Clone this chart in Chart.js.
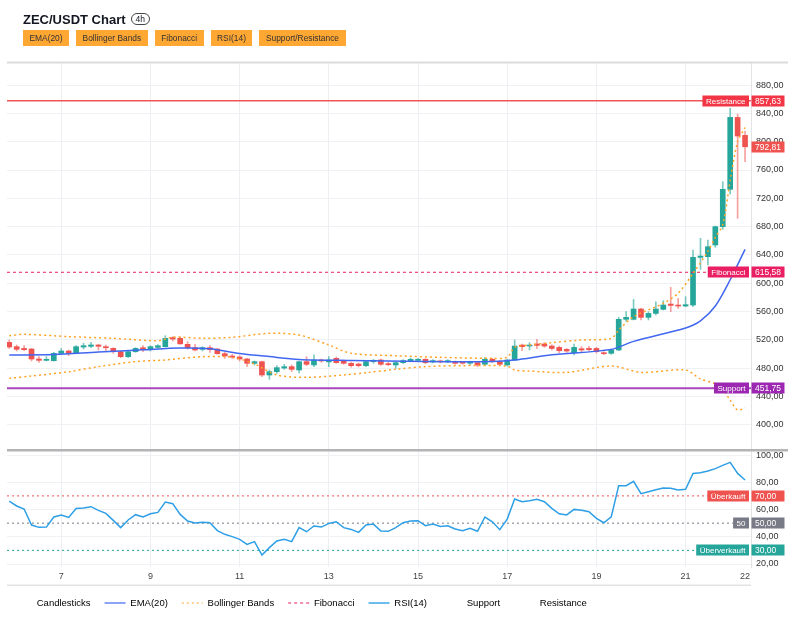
<!DOCTYPE html>
<html>
<head>
<meta charset="utf-8">
<script src="https://cdn.jsdelivr.net/npm/chart.js@4.4.0/dist/chart.umd.min.js"></script>
<style>
  body { margin: 0; background: #fff; font-family: "Liberation Sans", Arial, sans-serif; }
  #wrap { position: relative; width: 795px; height: 620px; }
  #head { position: absolute; left: 23px; top: 11px; z-index: 2; }
  h1 { margin: 0; font-size: 13px; font-weight: bold; color: #131722; display: flex; align-items: center; height: 16px; }
  .tf { font-size: 8.5px; font-weight: normal; border: 1px solid #444; border-radius: 7px; padding: 0 4px; margin-left: 5px; line-height: 10px; }
  .btns { margin-top: 3px; display: flex; gap: 7px; }
  .btns span { background: #FFA733; color: #333; font-size: 8.4px; height: 16px; line-height: 16px; padding: 0 6.5px; }
  canvas { position: absolute; left: 0; top: 0; }
</style>
</head>
<body>
<div id="wrap">
  <div id="head">
    <h1>ZEC/USDT Chart <span class="tf">4h</span></h1>
    <div class="btns"><span>EMA(20)</span><span>Bollinger Bands</span><span>Fibonacci</span><span>RSI(14)</span><span>Support/Resistance</span></div>
  </div>
  <canvas id="chart" width="795" height="620"></canvas>
</div>
<script>
// 4h candles, index 0 = day 5 20:00 ... index 99 = day 22 08:00
const opens  = [516.6,510.5,508,507.2,493.1,491.2,490.7,501.1,504.4,501.1, 510,511,512.9,510.5,508.1,503.4,496.4,503.4,509,506.3,
                509.5,510.5,523.2,522.3,513.8,509.1,506.7,509.1,507.2,500.6, 497.3,495.9,493.1,487,489.3,470.5,475.2,480.3,482.3,477.6,
                489.4,484.7,491.7,489,494,490.3,487,486,483.7,489.4, 491.7,486.5,484.7,487.9,490.8,491.2,492.7,488.9,490.3,489,
                489.4,488,487.1,488,485.6,492.7,489.4,484.7,491.7,512.8, 511.4,514.3,514.3,511.4,509.5,506.7,502,507.6,508,508,
                502,501.1,505.8,549.1,549.1,563.7,551.9,557.5,563.2,570.7, 569.3,567.9,569.3,636.6,637.6,654.1,680,732.7,834.3,808.9];
const highs  = [520,512.9,511.9,508.1,496.4,496.4,502.5,508.1,505.8,512, 515.2,516.6,513.8,512.9,509.1,504.4,504.4,509.1,511.9,511.9,
                513.3,526,524.6,524.1,517.6,513.8,510.5,511.9,508.1,502.5, 499.7,497.8,494,490.3,490.3,477.6,483.7,485.6,484.6,490.3,
                496.4,499,493.1,496.4,495.9,491.7,488.9,487.5,491.2,492.6, 493.1,488.4,489.4,492.2,494.5,494,493.6,492.2,491.7,492.2,
                490.3,489.4,490.3,489.4,495,494,491.2,492.2,519.9,514.3, 516.1,520.8,516.1,513.3,511.4,508,514.3,510.5,510.9,509.5,
                503.4,507.2,551.9,559.9,577.3,564.6,559.9,574,575.5,594.3, 578.7,581.1,647,663.5,661.1,680.9,743.5,847.1,839,815];
const lows   = [508,504.4,504.8,490.3,488.4,490.3,490.3,499.7,497.8,500.6, 507.2,509.1,505.8,504.8,501.1,495,495,502.5,503.4,504.4,
                508.1,510,518.5,513.8,507.2,504.4,504.4,502.5,499.7,494, 494,490.3,482.3,484.6,468.1,464.4,472.8,478.5,475.2,473.3,
                483.7,482.3,488.4,482.3,487,485.6,481.4,481.8,482.3,487, 484.2,483.7,480,486.5,489.4,489.4,486.5,487.5,487.5,487.9,
                485.6,485.6,485.1,482.3,484.2,488,483.7,483.2,490.8,504.8, 505.8,507.6,509.5,505.8,502,502.5,498.7,503.4,504.4,501.6,
                499.2,499.7,504.8,546,548.2,548.2,548.2,555.2,562.3,559.9, 564.6,566.9,567,619.7,625.8,650.8,676.2,726.1,691.7,771.7];
const closes = [510,506.8,506.3,493.1,491.2,492.6,501.1,504.4,501.1,510.5, 511.9,512.9,511,509,504.4,496.4,503.4,508.1,506.3,510.5,
                511.9,522.3,521.3,514.5,509.1,505.8,509.1,506.3,500.6,497.3, 495.9,493.1,487,489.3,470.5,475.2,480.9,482.3,478.5,489.3,
                485.6,491.7,490.3,491.7,488,487,483.7,483.7,489.4,490.3, 485.6,485.1,487.9,490.8,492.7,492.7,488,490.8,489,490.8,
                487,487.1,489,484.7,492.7,489.4,485.6,491.7,511.4,510.5, 512.8,512.3,511.4,508,504.8,504.4,509.5,505.8,506.3,503.4,
                500.6,505.8,549.1,551.9,563.7,551.9,557.5,563.7,569.3,568.8, 567.9,569.8,636.6,638.5,651.7,680,732.7,834.3,808,792.81];

// EMA(20) read at selected candles
const emaIdx = [0,6,12,18,23,27,31,35,39,46,56,65,68,73,81,84,91,93,95,97,99];
const emaVal = [498.7,499.5,503,506,508.5,507.5,501,496.5,492.5,491,489.5,489.5,491.7,499,506.7,518,537,547,568,605,648];

// Bollinger Bands read at selected candles
const bbUpIdx = [0,2,8,14,20,22,26,30,35,39,43,46,52,58,65,67,68,70,73,77,81,82,84,88,90,92,94,95,96,97,98,99];
const bbUpVal = [526,528,524.7,522.3,519,524,522.3,523.7,529.4,527,512.9,501.1,497.8,495.5,494,495.5,509.6,512.9,516.1,519.9,522.2,534,552.8,571.7,586,614,645,665,683,745,800,820];
const bbLoIdx = [0,3,8,12,17,21,26,30,33,36,40,45,48,52,56,61,67,68,70,75,81,85,91,93,95,96,97,98,99];
const bbLoVal = [465.8,469.1,475.2,482.3,489.4,491.7,496.4,495.5,486,470.5,467.2,470.5,473.8,478.5,482.3,483.7,483.2,477.6,476,474.2,483.2,474.2,477.5,465,458,450,435,421,424];

// RSI(14), one value per candle
const rsi = [66.2,62.6,60.4,48.6,46.9,47.1,54.5,56,54.2,60.8, 61.1,62.1,59.4,57.2,52,46.7,52.3,56.2,54.5,56.9,
             57.9,65.5,64.3,56.4,51.5,50.1,50.6,50.3,44.5,41.8, 40.1,38.1,34.4,36.4,26.6,32,36.9,38.1,36.4,46.7,
             43.7,47.9,47.1,49.8,51,46.7,45.4,43.2,48.6,49.3, 44.2,44,46.7,50.3,51.5,51.8,48.1,49.3,47.6,48.1,
             45.7,44.5,46.2,44,54.5,51,45.2,53,67.7,65.7, 66.5,67.5,65.7,60.8,56.9,56,60.1,59.4,58.4,53.5,
             50.3,54.7,77.5,77.5,80.7,71.6,73.1,74.5,75.8,75.6, 74.3,74.8,86.5,87,88.3,90,92.4,94.6,86.5,81.7];

// levels
const resistanceLevel = 857.63;
const supportLevel = 451.75;
const fibLevel = 615.58;
const rsiLevels = [70, 50, 30];

// time axis
const dayTickIdx = [7, 19, 31, 43, 55, 67, 79, 91, 99];
const dayTickLabels = ['7', '9', '11', '13', '15', '17', '19', '21', '22'];

const UP = '#26A69A', DOWN = '#EF5350';
const X_MIN = -0.3, X_MAX = 99.8;
const fmt = v => v.toFixed(2).replace('.', ',');
const pts = (idx, val) => idx.map((k, i) => ({ x: k, y: val[i] }));
const hline = v => [{ x: X_MIN, y: v }, { x: X_MAX, y: v }];
const isUp = i => closes[i] >= opens[i];

Chart.defaults.font.family = '"Liberation Sans", Arial, sans-serif';

const tags = [
  { axis: 'y', value: resistanceLevel, name: 'Resistance', color: '#F23645' },
  { axis: 'y', value: closes[closes.length - 1], name: '', color: '#EF5350' },
  { axis: 'y', value: fibLevel, name: 'Fibonacci', color: '#E91E63' },
  { axis: 'y', value: supportLevel, name: 'Support', color: '#9C27B0' },
  { axis: 'rsi', value: rsiLevels[0], name: 'Überkauft', color: '#EF5350' },
  { axis: 'rsi', value: rsiLevels[1], name: '50', color: '#787B86' },
  { axis: 'rsi', value: rsiLevels[2], name: 'Überverkauft', color: '#26A69A' }
];

// panes frame + axis tags
const tagPlugin = {
  id: 'tags',
  afterLayout(chart) {
    const lg = chart.legend;
    lg.left = -3;
    lg.top -= 2.25;
    lg.bottom -= 2.25;
  },
  afterDraw(chart) {
    const { ctx, chartArea: ca, scales } = chart;
    ctx.save();
    ctx.fillStyle = '#DCDCDC';
    ctx.fillRect(ca.left, ca.top - 1.5, 788 - ca.left, 2);
    ctx.fillStyle = '#B4B4B4';
    ctx.fillRect(ca.left, scales.y.bottom - 1, 788 - ca.left, 2.5);
    ctx.fillStyle = '#E3E3E3';
    ctx.fillRect(ca.left, ca.bottom + 17.5, ca.right - ca.left, 1.5);
    ctx.textBaseline = 'middle';
    ctx.textAlign = 'left';
    tags.forEach(t => {
      const py = Math.round(scales[t.axis].getPixelForValue(t.value));
      ctx.fillStyle = t.color;
      ctx.fillRect(ca.right + 0.5, py - 5.5, 33, 11);
      ctx.fillStyle = '#fff';
      ctx.font = '8.5px "Liberation Sans", Arial, sans-serif';
      ctx.fillText(fmt(t.value), ca.right + 4, py + 0.5);
      if (t.name) {
        ctx.font = '8px "Liberation Sans", Arial, sans-serif';
        const w = ctx.measureText(t.name).width + 7;
        ctx.fillStyle = t.color;
        ctx.fillRect(ca.right - 2 - w, py - 5.5, w, 11);
        ctx.fillStyle = '#fff';
        ctx.fillText(t.name, ca.right - 2 - w + 3.5, py + 0.5);
      }
    });
    ctx.restore();
  }
};

const lineDs = (label, data, color, extra) => Object.assign({
  type: 'line', label, data, borderColor: color, borderWidth: 1.5,
  pointRadius: 0, fill: false, yAxisID: 'y', order: 1
}, extra);

const datasets = [
  {
    type: 'bar', label: 'Candlesticks', inLegend: true, legendColor: 'rgba(0,0,0,0)',
    data: opens.map((o, i) => ({ x: i, y: [o, closes[i]] })),
    backgroundColor: ctx => isUp(ctx.dataIndex) ? UP : DOWN,
    barThickness: 5, minBarLength: 1, grouped: false, yAxisID: 'y', order: 2
  },
  {
    type: 'bar', label: 'wicks',
    data: lows.map((l, i) => ({ x: i, y: [l, highs[i]] })),
    backgroundColor: ctx => isUp(ctx.dataIndex) ? 'rgba(38,166,154,0.6)' : 'rgba(239,83,80,0.55)',
    barThickness: 1, grouped: false, yAxisID: 'y', order: 3
  },
  lineDs('EMA(20)', pts(emaIdx, emaVal), '#4167F0', { inLegend: true, legendColor: 'rgba(65,103,240,0.6)', tension: 0.3 }),
  lineDs('Bollinger Bands', pts(bbUpIdx, bbUpVal), '#FFA326', { inLegend: true, legendColor: 'rgba(255,163,38,0.5)', borderDash: [2, 3], tension: 0.3, order: 0 }),
  lineDs('BB lower', pts(bbLoIdx, bbLoVal), '#FFA326', { borderDash: [2, 3], tension: 0.3, order: 0 }),
  lineDs('Fibonacci', hline(fibLevel), '#E91E63', { inLegend: true, legendColor: 'rgba(233,30,99,0.5)', borderWidth: 1, borderDash: [3, 3] }),
  lineDs('RSI(14)', rsi.map((v, i) => ({ x: i, y: v })), '#2E9FE6', { inLegend: true, legendColor: 'rgba(46,159,230,0.7)', yAxisID: 'rsi' }),
  lineDs('rsi70', hline(rsiLevels[0]), '#EF5350', { yAxisID: 'rsi', borderWidth: 1, borderDash: [2, 3] }),
  lineDs('rsi50', hline(rsiLevels[1]), '#787B86', { yAxisID: 'rsi', borderWidth: 1, borderDash: [2, 3] }),
  lineDs('rsi30', hline(rsiLevels[2]), '#26A69A', { yAxisID: 'rsi', borderWidth: 1, borderDash: [2, 3] }),
  lineDs('Support', hline(supportLevel), '#AB47BC', { inLegend: true, legendColor: 'rgba(0,0,0,0)', borderWidth: 2 }),
  lineDs('Resistance', hline(resistanceLevel), '#F0555A', { inLegend: true, legendColor: 'rgba(0,0,0,0)', borderWidth: 1.5 })
];

const rightAxis = (extra) => Object.assign({
  type: 'linear', position: 'right', stack: 'panes',
  grid: { color: '#F0F1F4', drawTicks: false },
  border: { display: true, color: '#E3E3E3' },
  afterFit: s => { s.width = 44; }
}, extra);
const axisTicks = step => ({ includeBounds: false, stepSize: step, callback: v => fmt(v), font: { size: 9 }, color: '#333', padding: 5 });

new Chart(document.getElementById('chart'), {
  type: 'bar',
  data: { datasets },
  plugins: [tagPlugin],
  options: {
    responsive: false,
    animation: false,
    events: [],
    layout: { padding: { top: 63, left: 7, right: 0, bottom: 0 } },
    scales: {
      x: {
        type: 'linear', min: X_MIN, max: X_MAX, offset: false,
        afterBuildTicks: s => { s.ticks = dayTickIdx.map(v => ({ value: v })); },
        afterFit: s => { s.height = 19.5; },
        ticks: { autoSkip: false, maxRotation: 0, callback: (v, i) => dayTickLabels[i], font: { size: 9 }, color: '#444', padding: 4 },
        grid: { offset: false, drawTicks: false, color: c => c.index === dayTickIdx.length - 1 ? 'rgba(0,0,0,0)' : '#EDEEF1' },
        border: { display: false }
      },
      y: rightAxis({ min: 364.6, max: 911.1, stackWeight: 387, ticks: axisTicks(40) }),
      rsi: rightAxis({ min: 17.8, max: 103.7, stackWeight: 117, ticks: axisTicks(20) })
    },
    plugins: {
      tooltip: { enabled: false },
      legend: {
        position: 'bottom', align: 'start',
        labels: {
          font: { size: 9.5 }, color: '#222', padding: 14,
          usePointStyle: true, pointStyleWidth: 21,
          generateLabels: chart => chart.data.datasets
            .map((ds, i) => ({
              text: ds.label, datasetIndex: i, hidden: false, inLegend: ds.inLegend,
              strokeStyle: ds.legendColor, fillStyle: ds.legendColor,
              lineWidth: 2, lineDash: ds.borderDash || [], pointStyle: 'line'
            }))
            .filter(it => it.inLegend)
        }
      }
    }
  }
});
</script>
</body>
</html>
